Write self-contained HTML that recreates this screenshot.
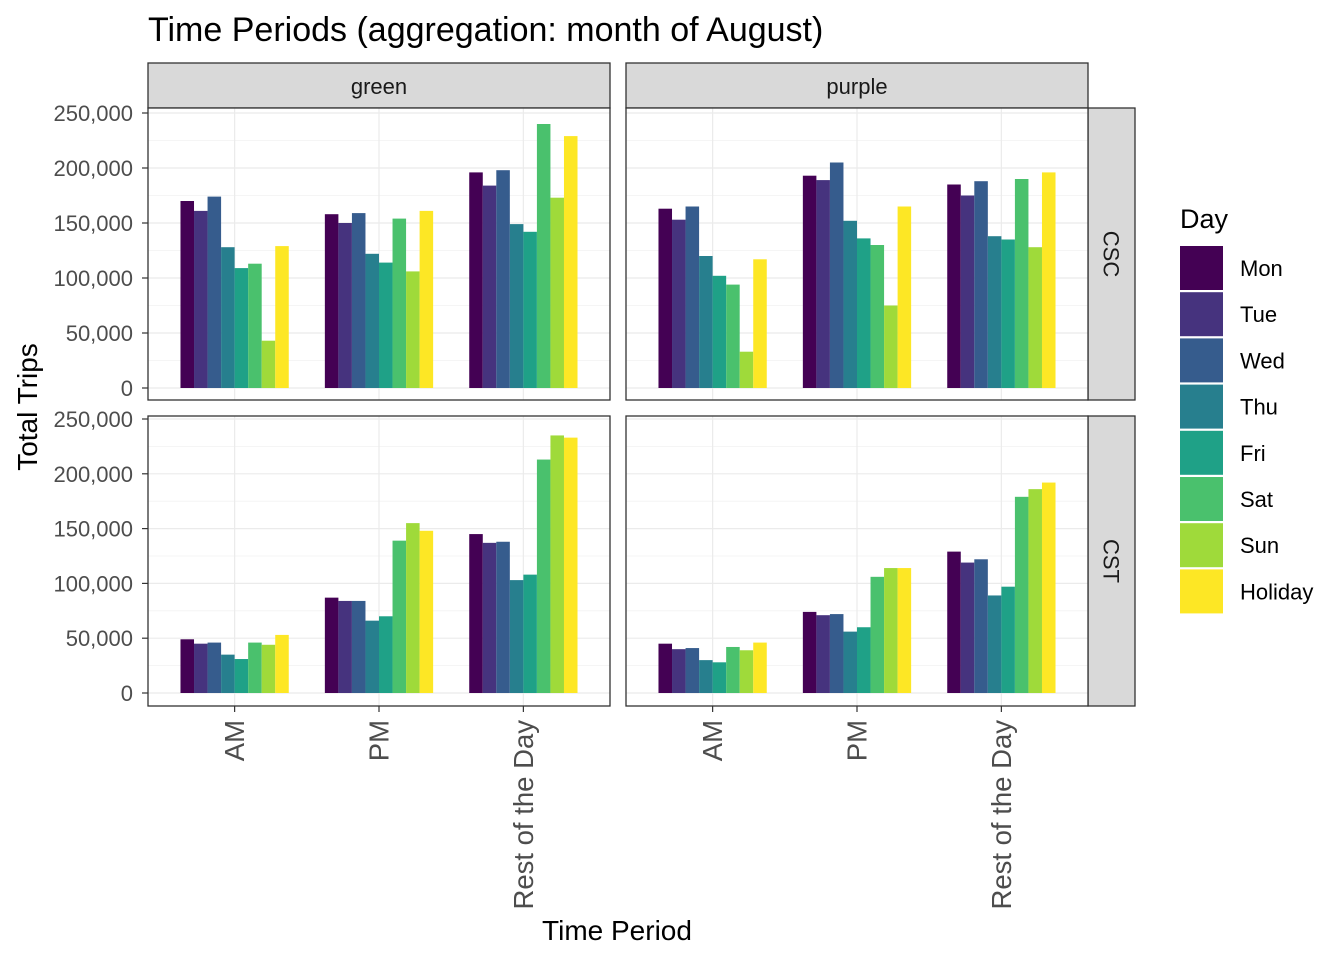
<!DOCTYPE html>
<html><head><meta charset="utf-8"><style>
body{margin:0;background:#fff;}
svg{display:block;font-family:"Liberation Sans",Arial,sans-serif;}
</style></head><body>
<svg id="c" width="1344" height="960"></svg>
<script>
const days=["Mon","Tue","Wed","Thu","Fri","Sat","Sun","Holiday"];
const colors=["#440154","#46337E","#365C8D","#277F8E","#1FA187","#4AC16D","#9FDA3A","#FDE725"];
const periods=["AM","PM","Rest of the Day"];
const lines=["green","purple"];
const services=["CSC","CST"];
const yTicks=[0,50000,100000,150000,200000,250000];
const yTickLabels=["0","50,000","100,000","150,000","200,000","250,000"];
// values in thousands: [service][line][period][day]
const greenCSC=[[170,161,174,128,109,113,43,129],[158,150,159,122,114,154,106,161],[196,184,198,149,142,240,173,229]];
const purpleCSC=[[163,153,165,120,102,94,33,117],[193,189,205,152,136,130,75,165],[185,175,188,138,135,190,128,196]];
const greenCST=[[49,45,46,35,31,46,44,53],[87,84,84,66,70,139,155,148],[145,137,138,103,108,213,235,233]];
const purpleCST=[[45,40,41,30,28,42,39,46],[74,71,72,56,60,106,114,114],[129,119,122,89,97,179,186,192]];
const data=[[greenCSC,purpleCSC],[greenCST,purpleCST]];

const svg=document.getElementById('c');
const NS="http://www.w3.org/2000/svg";
function el(t,a,p){const e=document.createElementNS(NS,t);for(const k in a)e.setAttribute(k,a[k]);(p||svg).appendChild(e);return e;}
const panelX=[148,626],panelW=462;
const rowY=[108,416],rowH=[292,290];
const zeroY=[388,693],scale=[275/250000,274/250000];
function yPos(r,v){return zeroY[r]-v*scale[r];}
const step=panelW/3.2;
function xPos(c,i){return panelX[c]+step*(0.6+i);}
const bw=step*0.75/8;

let t=el('text',{x:148,y:41,'font-size':34,fill:'#000'});t.textContent="Time Periods (aggregation: month of August)";


for(let c=0;c<2;c++){
  let s=el('rect',{x:panelX[c],y:63,width:panelW,height:45,fill:'#D9D9D9',stroke:'#333',"stroke-width":1.3});
  
  let st=el('text',{x:panelX[c]+panelW/2,y:94,'font-size':22,'text-anchor':'middle',fill:'#1A1A1A'});st.textContent=lines[c];
  
}
for(let r=0;r<2;r++){
  let s=el('rect',{x:1088,y:rowY[r],width:47,height:rowH[r],fill:'#D9D9D9',stroke:'#333',"stroke-width":1.3});
  
  let cy=rowY[r]+rowH[r]/2;
  let st=el('text',{x:1111,y:cy,'font-size':22,'text-anchor':'middle','dominant-baseline':'central',fill:'#1A1A1A',transform:`rotate(90 1111 ${cy})`});st.textContent=services[r];
  
}
for(let r=0;r<2;r++){
  yTicks.forEach((v,i)=>{
    let y=yPos(r,v);
    let l=el('text',{x:133,y:y+8,'font-size':22,'text-anchor':'end',fill:'#4D4D4D'});l.textContent=yTickLabels[i];
    
    el('line',{x1:142,x2:148,y1:y,y2:y,stroke:'#333','stroke-width':1.2});
  });
  for(let c=0;c<2;c++){
    const g=el('g',{});
    
    el('rect',{x:panelX[c],y:rowY[r],width:panelW,height:rowH[r],fill:'#fff'},g);
    for(let k=0;k<yTicks.length;k++){
      let v=yTicks[k];
      el('line',{x1:panelX[c],x2:panelX[c]+panelW,y1:yPos(r,v),y2:yPos(r,v),stroke:'#EBEBEB','stroke-width':1.2},g);
      let m=v+25000,my=yPos(r,m);
      if(my>rowY[r]) el('line',{x1:panelX[c],x2:panelX[c]+panelW,y1:my,y2:my,stroke:'#F2F2F2','stroke-width':0.8},g);
    }
    for(let i=0;i<3;i++) el('line',{x1:xPos(c,i),x2:xPos(c,i),y1:rowY[r],y2:rowY[r]+rowH[r],stroke:'#EBEBEB','stroke-width':1.2},g);
    const d=data[r][c];
    for(let i=0;i<3;i++)for(let j=0;j<8;j++){
      const v=d[i][j]*1000;
      const x=xPos(c,i)-step*0.375+j*bw;
      const b=el('rect',{x:x,y:yPos(r,v),width:bw,height:v*scale[r],fill:colors[j]},g);
      
      
    }
    el('rect',{x:panelX[c],y:rowY[r],width:panelW,height:rowH[r],fill:'none',stroke:'#333','stroke-width':1.3},g);
    if(r==1){
      for(let i=0;i<3;i++){
        const x=xPos(c,i);
        el('line',{x1:x,x2:x,y1:706,y2:712,stroke:'#333','stroke-width':1.2});
        const l=el('text',{x:x,y:720,'font-size':27.5,'text-anchor':'end','dominant-baseline':'central',fill:'#4D4D4D',transform:`rotate(-90 ${x} 720)`});
        l.textContent=periods[i];
        
      }
    }
  }
}
let xt=el('text',{x:617,y:940,'font-size':28,'text-anchor':'middle',fill:'#000'});xt.textContent="Time Period";

let yt=el('text',{x:37,y:407,'font-size':28,'text-anchor':'middle',fill:'#000',transform:'rotate(-90 37 407)'});yt.textContent="Total Trips";

let lt=el('text',{x:1180,y:228,'font-size':27,fill:'#000'});lt.textContent="Day";

days.forEach((dname,j)=>{
  const y=246+j*46.2;
  const k=el('rect',{x:1180,y:y,width:43,height:44,fill:colors[j]});
  
  const l=el('text',{x:1240,y:y+30,'font-size':22,fill:'#000'});l.textContent=dname;
  
});
</script>
</body></html>
